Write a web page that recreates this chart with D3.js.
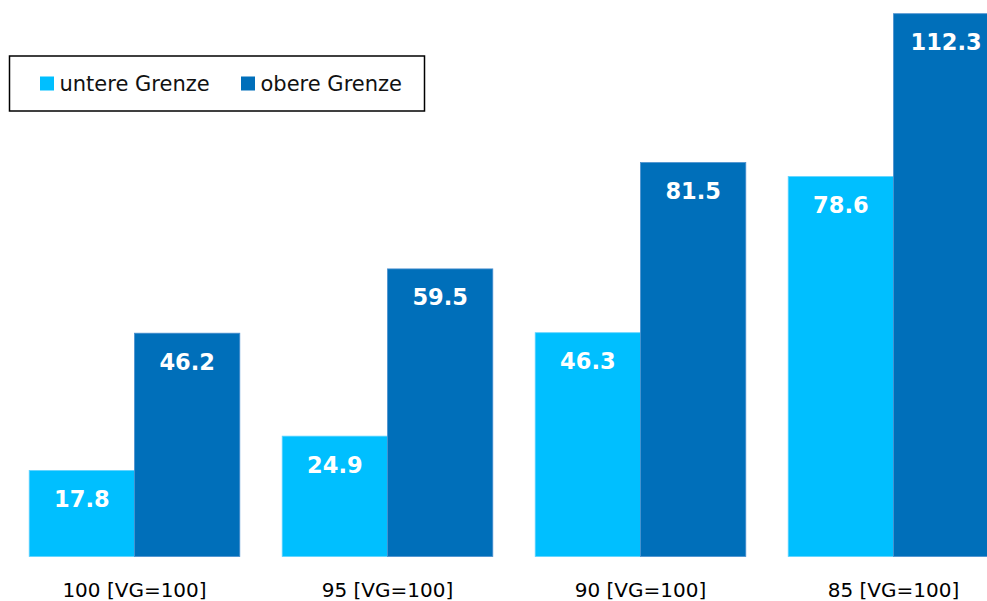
<!DOCTYPE html>
<html><head><meta charset="utf-8">
<script src="https://cdn.jsdelivr.net/npm/d3@7"></script>
<style>html,body{margin:0;padding:0;background:#fff;overflow:hidden}</style>
</head><body>
<svg id="chart" width="987" height="601"></svg>
<script>
const categories = ["100 [VG=100]", "95 [VG=100]", "90 [VG=100]", "85 [VG=100]"];
const seriesNames = ["untere Grenze", "obere Grenze"];
const lowerValues = [17.8, 24.9, 46.3, 78.6];
const upperValues = [46.2, 59.5, 81.5, 112.3];
const colors = ["#00BFFF", "#006FBA"];
const strokes = ["#5fd3ff", "#4a8fcf"];

const svg = d3.select("#chart");
const font = "'DejaVu Sans', Verdana, sans-serif";

const rows = categories.map((c, i) => ({cat: c, vals: [lowerValues[i], upperValues[i]]}));

const x = d3.scaleBand().domain(categories).range([8, 1020]).paddingInner(0.1676).paddingOuter(0.0838);
const xs = d3.scaleBand().domain(d3.range(seriesNames.length)).range([0, x.bandwidth()]).padding(0);
const y = d3.scaleLinear().domain([0, 112.3]).range([556.5, 13.7]);

const g = svg.selectAll("g.grp").data(rows).join("g")
  .attr("class", "grp")
  .attr("transform", d => `translate(${x(d.cat)},0)`);

g.selectAll("rect").data(d => d.vals).join("rect")
  .attr("x", (d, i) => xs(i))
  .attr("width", xs.bandwidth())
  .attr("y", d => y(d))
  .attr("height", d => y(0) - y(d))
  .attr("fill", (d, i) => colors[i])
  .attr("stroke", (d, i) => strokes[i])
  .attr("stroke-width", 0.8);

g.selectAll("text.val").data(d => d.vals).join("text")
  .attr("class", "val")
  .attr("x", (d, i) => xs(i) + xs.bandwidth() / 2)
  .attr("y", d => y(d) + 36.5)
  .attr("text-anchor", "middle")
  .attr("font-family", font)
  .attr("font-weight", "bold")
  .attr("font-size", 22.5)
  .attr("fill", "#fff")
  .text(d => d.toFixed(1));

// category axis labels
const xAxis = d3.axisBottom(x).tickSize(0).tickPadding(0);
const ax = svg.append("g").attr("transform", "translate(0,556.5)").call(xAxis);
ax.select(".domain").remove();
ax.selectAll("text")
  .attr("font-family", font)
  .attr("font-size", 20)
  .attr("fill", "#000")
  .attr("dy", null)
  .attr("y", 40);

// legend
const leg = svg.append("g");
leg.append("rect").attr("x", 9.5).attr("y", 56).attr("width", 415).attr("height", 55)
  .attr("fill", "#fff").attr("stroke", "#000").attr("stroke-width", 1.5);
const legX = [40, 241];
seriesNames.forEach((s, i) => {
  leg.append("rect").attr("x", legX[i]).attr("y", 76.5).attr("width", 14).attr("height", 14).attr("fill", colors[i]);
  leg.append("text").attr("x", legX[i] + 19.5).attr("y", 91)
    .attr("font-family", font).attr("font-size", 21).attr("fill", "#111").text(s);
});
</script>
</body></html>
